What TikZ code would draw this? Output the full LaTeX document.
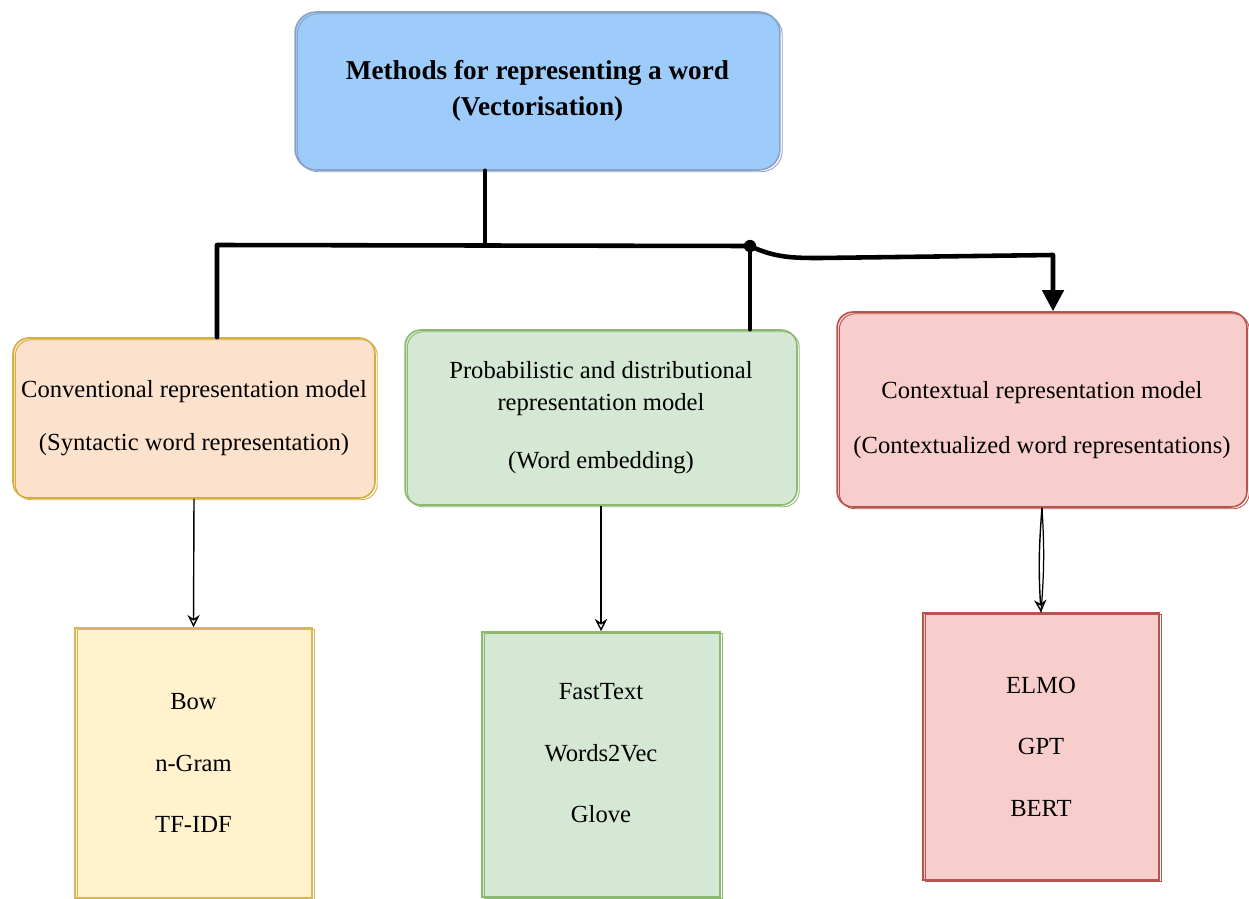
\documentclass[tikz,border=0pt]{standalone}
\usepackage{fontspec}
\setmainfont{Liberation Serif}
\usetikzlibrary{arrows.meta}

\definecolor{topfill}{HTML}{9DCBFA}
\definecolor{topline}{HTML}{8AA2C4}
\definecolor{orfill}{HTML}{FCE1CD}
\definecolor{orline}{HTML}{D4AE3F}
\definecolor{yefill}{HTML}{FFF2CC}
\definecolor{yeline}{HTML}{D6B656}
\definecolor{grfill}{HTML}{D5E8D4}
\definecolor{grline}{HTML}{8CB96F}
\definecolor{rdfill}{HTML}{F8CECC}
\definecolor{rdline}{HTML}{B85450}

\tikzset{
  box/.style={draw=#1, line width=0.9pt,
    postaction={draw=#1, line width=0.5pt,
      transform canvas={shift={(1.3pt,-1pt)}}}},
  roundbox/.style={box=#1, rounded corners=9pt, align=center,
    font=\fontsize{14}{17}\selectfont},
  listbox/.style={box=#1, align=center,
    font=\fontsize{14}{17}\selectfont},
  lbl/.style={align=center, font=\fontsize{14}{17}\selectfont},
  trunk/.style={line width=2.6pt, line join=round, line cap=round},
  thinarrow/.style={line width=0.8pt,
    -{Stealth[open, length=7pt, width=7pt]}},
}

\begin{document}
\begin{tikzpicture}[x=0.02cm, y=-0.02cm]
  \useasboundingbox (0,0) rectangle (1249,899);

  % root
  \node[box=topline, fill=topfill, rounded corners=12pt, align=center,
        minimum width=9.7cm, minimum height=3.16cm,
        font=\bfseries\fontsize{15.5}{20.5}\selectfont]
    (top) at (537.5,91)
    {Methods for representing a word\\(Vectorisation)};

  % model families
  \node[roundbox=orline, fill=orfill, minimum width=7.24cm,
        minimum height=3.2cm] (conv) at (194,418)
    {Conventional representation model\\[13pt](Syntactic word representation)};
  \node[roundbox=grline, fill=grfill, minimum width=7.84cm,
        minimum height=3.5cm] (prob) at (601,417.5)
    {Probabilistic and distributional\\[1pt]representation model\\[16pt](Word embedding)};
  \node[roundbox=rdline, fill=rdfill, minimum width=8.2cm,
        minimum height=3.9cm] (ctx) at (1042,409.5) {};
  \node[lbl] (ctxlbl) at (1042,420)
    {Contextual representation model\\[14pt](Contextualized word representations)};

  % techniques
  \node[listbox=yeline, fill=yefill, minimum width=4.74cm,
        minimum height=5.4cm] (bow) at (193.5,763)
    {Bow\\[18pt]n-Gram\\[18pt]TF-IDF};
  \node[listbox=grline, fill=grfill, minimum width=4.76cm,
        minimum height=5.3cm] (fast) at (601,764.5) {};
  \node[lbl] (fastlbl) at (601,753.5)
    {FastText\\[18pt]Words2Vec\\[18pt]Glove};
  \node[listbox=rdline, fill=rdfill, minimum width=4.72cm,
        minimum height=5.34cm] (elmo) at (1041,746.5)
    {ELMO\\[18pt]GPT\\[18pt]BERT};

  % branching points of the tree
  \coordinate (split) at (485,245);
  \coordinate (j1) at (217,245);
  \coordinate (j2) at (750,246);
  \coordinate (bend) at (820,258);
  \coordinate (j3) at (1053,255);

  \draw[trunk] (split |- top.south) -- (split);
  \draw[trunk] (j1 |- conv.north) -- (j1) -- (j2);
  \draw[trunk] (j2) -- (j2 |- prob.north);
  \draw[trunk, -{Triangle[length=12pt, width=12pt]}]
    (j2) to[out=-25, in=180] (bend) -- (j3) -- (j3 |- ctx.north);
  \fill (j2) circle[radius=3.5pt];

  % family to technique arrows
  \draw[thinarrow] (conv.south) -- (bow.north);
  \draw[thinarrow] (prob.south) -- (fast.north);
  \draw[line width=0.7pt] (ctx.south) to[bend left=4] (elmo.north);
  \draw[thinarrow] (ctx.south) to[bend right=4] (elmo.north);
\end{tikzpicture}
\end{document}
